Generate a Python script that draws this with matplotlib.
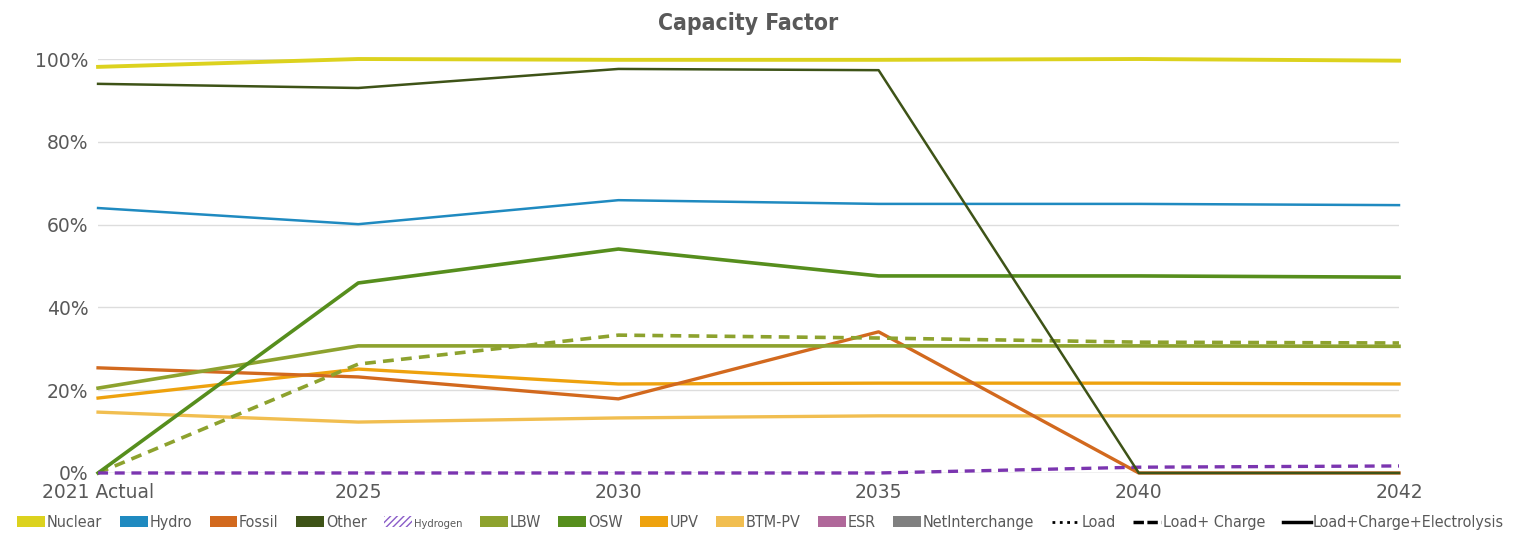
import numpy as np
import matplotlib
matplotlib.use("Agg")
import matplotlib.pyplot as plt
from matplotlib.patches import Patch
from matplotlib.lines import Line2D

plt.rcParams['font.family'] = ['DejaVu Sans']
plt.rcParams['font.stretch'] = 'condensed'

# Data
years = ['2021 Actual', '2025', '2030', '2035', '2040', '2042']
nuclear = [98.1, 100.0, 99.8, 99.8, 100.0, 99.6]
other = [94.0, 93.0, 97.6, 97.3, 0.0, 0.0]
hydro = [64.0, 60.1, 65.9, 65.0, 65.0, 64.7]
osw = [0.0, 45.9, 54.1, 47.6, 47.6, 47.3]
lbw = [20.5, 30.7, 30.7, 30.7, 30.7, 30.6]
lbw_charge = [0.0, 26.3, 33.3, 32.6, 31.6, 31.4]
fossil = [25.4, 23.2, 17.9, 34.1, 0.0, 0.0]
upv = [18.1, 25.1, 21.5, 21.7, 21.7, 21.5]
btm_pv = [14.7, 12.3, 13.3, 13.8, 13.8, 13.8]
hydrogen_charge = [0.0, 0.0, 0.0, 0.0, 1.4, 1.7]

colors = {
    'Nuclear': '#DCD21E', 'Hydro': '#1F8AC0', 'Fossil': '#D2691E',
    'Other': '#3E5317', 'Hydrogen': '#7B35B0', 'LBW': '#8DA22E',
    'OSW': '#568E1D', 'UPV': '#EEA20E', 'BTM-PV': '#F1BE50',
    'ESR': '#B0689A', 'NetInterchange': '#808080',
}

fig = plt.figure(figsize=(15.18, 5.33), dpi=100)
ax = fig.add_axes([0.0646, 0.1126, 0.857, 0.7767])
x = np.arange(len(years))

ax.plot(x, btm_pv, color=colors['BTM-PV'], lw=2.4, clip_on=False)
ax.plot(x, upv, color=colors['UPV'], lw=2.4, clip_on=False)
ax.plot(x, fossil, color=colors['Fossil'], lw=2.4, clip_on=False)
ax.plot(x, lbw, color=colors['LBW'], lw=2.6, clip_on=False)
ax.plot(x, lbw_charge, color=colors['LBW'], lw=2.6, ls=(0, (3, 2)), clip_on=False)
ax.plot(x, osw, color=colors['OSW'], lw=2.6, clip_on=False)
ax.plot(x, hydro, color=colors['Hydro'], lw=1.8, clip_on=False)
ax.plot(x, hydrogen_charge, color=colors['Hydrogen'], lw=2.4, ls=(0, (3, 2)), clip_on=False)
ax.plot(x, other, color=colors['Other'], lw=1.8, clip_on=False)
ax.plot(x, nuclear, color=colors['Nuclear'], lw=2.8, clip_on=False)

ax.set_xlim(0, len(years) - 1)
ax.set_ylim(0, 100)
ax.set_yticks(np.arange(0, 101, 20))
ax.set_yticklabels([f'{v}%' for v in range(0, 101, 20)])
ax.set_xticks(x)
ax.set_xticklabels(years)
ax.tick_params(axis='both', length=0, labelsize=13.5, colors='#595959', pad=7)
for lab in ax.get_xticklabels() + ax.get_yticklabels():
    lab.set_fontstretch('normal')
for s in ax.spines.values():
    s.set_visible(False)
ax.grid(axis='y', color='#DDDDDD', lw=1)
ax.axhline(0, color='#D0D0D0', lw=1, zorder=0)
ax.set_axisbelow(True)
ax.set_title('Capacity Factor', fontsize=16.5, fontweight='bold', color='#595959', pad=21)

handles = []
labels = []
for name in ['Nuclear', 'Hydro', 'Fossil', 'Other', 'Hydrogen', 'LBW', 'OSW',
             'UPV', 'BTM-PV', 'ESR', 'NetInterchange']:
    if name == 'Hydrogen':
        handles.append(Patch(facecolor='white', edgecolor='#8A5CC8', hatch='/////', lw=0))
    else:
        handles.append(Patch(facecolor=colors[name], edgecolor='none'))
    labels.append(name)
handles += [Line2D([], [], color='black', lw=2, ls=':'),
            Line2D([], [], color='black', lw=2.5, ls=(0, (3, 1))),
            Line2D([], [], color='black', lw=2.5)]
labels += ['Load', 'Load+ Charge', 'Load+Charge+Electrolysis']

leg = fig.legend(handles, labels, loc='lower left', bbox_to_anchor=(0.002, -0.022),
                 ncol=len(labels), frameon=False, fontsize=11.5, handlelength=1.75,
                 handleheight=0.7, handletextpad=0.1, columnspacing=1.1,
                 labelcolor='#595959')
for t in leg.get_texts():
    if t.get_text() == 'Hydrogen':
        t.set_fontsize(8)

fig.savefig('out.png', dpi=100)
